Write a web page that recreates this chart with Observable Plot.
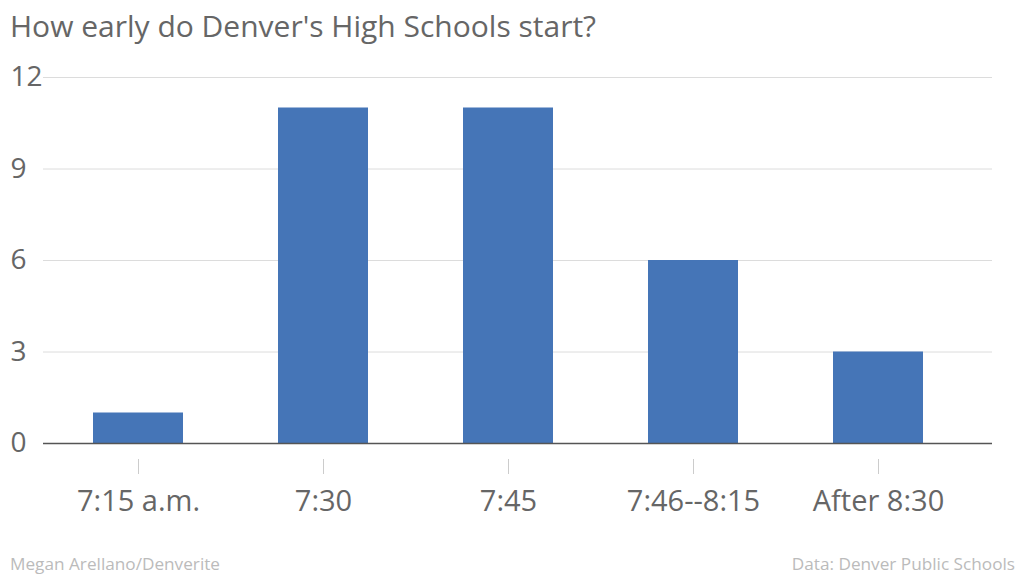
<!DOCTYPE html>
<html>
<head>
<meta charset="utf-8">
<script src="https://cdn.jsdelivr.net/npm/d3@7"></script>
<script src="https://cdn.jsdelivr.net/npm/@observablehq/plot@0.6"></script>
<style>
  html, body { margin: 0; padding: 0; background: #fff; }
  body { width: 1024px; height: 576px; position: relative; overflow: hidden; font-family: "Open Sans", sans-serif; }
  #title { position: absolute; left: 10px; top: 11px; font-size: 30px; line-height: 1; color: #666; white-space: nowrap; }
  #chart { position: absolute; left: 0; top: 0; }
  .foot { position: absolute; top: 555px; font-size: 17.2px; line-height: 1; color: #bbb; white-space: nowrap; }
  #src { left: 10px; }
  #data { right: 9px; }
</style>
</head>
<body>
<div id="chart"></div>
<div id="title">How early do Denver's High Schools start?</div>
<div class="foot" id="src">Megan Arellano/Denverite</div>
<div class="foot" id="data">Data: Denver Public Schools</div>
<script>
const categories = ["7:15 a.m.", "7:30", "7:45", "7:46--8:15", "After 8:30"];
const schools = [1, 11, 11, 6, 3];
const yTicks = [0, 3, 6, 9, 12];

const data = categories.map((c, i) => ({category: c, count: schools[i]}));

const chart = Plot.plot({
  width: 1024,
  height: 576,
  marginTop: 77,
  marginBottom: 133,
  marginLeft: 43,
  marginRight: 32,
  style: {fontFamily: "Open Sans, sans-serif", background: "#fff"},
  x: {domain: categories, paddingInner: 0.515, paddingOuter: 0.314, align: 0.42, label: null},
  y: {domain: [0, 12], label: null, axis: null},
  marks: [
    Plot.ruleY(yTicks.filter(d => d > 0), {y: d => d, stroke: "#dcdcdc", strokeWidth: 1}),
    Plot.barY(data, {x: "category", y: "count", fill: "#4575b7"}),
    Plot.ruleY([0], {stroke: "#555", strokeWidth: 1.5}),
    Plot.text(yTicks, {y: d => d, text: d => String(d), frameAnchor: "left", textAnchor: "start", dx: -33, fontSize: 28, fill: "#666"}),
    Plot.axisX({tickSize: 15, tickPadding: 16, dy: 16, stroke: "#ccc", fill: "#666", fontSize: 29, lineAnchor: "top", label: null})
  ]
});
document.getElementById("chart").appendChild(chart);
</script>
</body>
</html>
